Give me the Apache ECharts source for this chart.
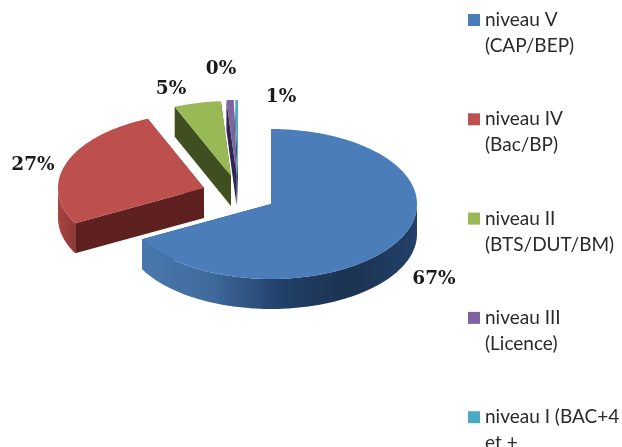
<!DOCTYPE html>
<html>
<head>
<meta charset="utf-8">
<style>
html, body { margin: 0; padding: 0; background: #fff; overflow: hidden; }
#chart { width: 622px; height: 447px; }
</style>
<script src="https://cdn.jsdelivr.net/npm/echarts@6/dist/echarts.min.js"></script>
</head>
<body>
<div id="chart"></div>
<script>
var categories = ['niveau V\n(CAP/BEP)', 'niveau IV\n(Bac/BP)', 'niveau II\n(BTS/DUT/BM)', 'niveau III\n(Licence)', 'niveau I (BAC+4\net +'];
var shares = [67.2, 26.5, 5.2, 0.8, 0.3];

var topColors = ['#4a7dba', '#bd4f4c', '#98b955', '#7f63a1', '#4aaac4'];
var edgeColors = ['#1f3a5c', '#5e2120', '#3f4f1f', '#2e2550', '#1f5a6c'];
var wallColors = [['#4a78ad', '#3f6a9c', '#22406a', '#1c3350', '#22406a'], ['#a84643', '#8e3836'], ['#3f4f1f', '#3f4f1f'], ['#2e2550', '#2e2550'], ['#1f5a6c', '#1f5a6c']];

// ellipse of the tilted pie
var rx = 146, ry = 75, depth = 30;
// where each slice's tip ends up (exploded)
var tips = [[271, 204], [204, 188], [231, 176], [236.5, 175], [238, 175]];
var labelPos = [[434, 279], [33, 165.5], [171, 89], [281, 97], [221, 69]];

var chart = echarts.init(document.getElementById('chart'));

var total = shares.reduce(function (a, b) { return a + b; }, 0);
var starts = [];
var sum = 0;
shares.forEach(function (v) {
    starts.push(sum / total * 360);
    sum += v;
});

function rimPoint(tip, deg, drop) {
    var r = deg * Math.PI / 180;
    return [tip[0] + rx * Math.sin(r), tip[1] - ry * Math.cos(r) + drop];
}

function radialFace(tip, deg, color) {
    var p = rimPoint(tip, deg, 0);
    return {
        type: 'polygon',
        shape: { points: [tip, p, [p[0], p[1] + depth], [tip[0], tip[1] + depth]] },
        style: { fill: color }
    };
}

function renderSlice(params, api) {
    var i = params.dataIndex;
    var a0 = starts[i];
    var a1 = a0 + api.value(0) / total * 360;
    var tip = tips[i];
    var children = [];

    children.push(radialFace(tip, a0, edgeColors[i]));
    children.push(radialFace(tip, a1, edgeColors[i]));

    // outer wall, only the front half of the rim shows
    var w0 = Math.max(a0, 90), w1 = Math.min(a1, 270);
    if (w1 > w0) {
        var upper = [], lower = [];
        for (var d = w0; d < w1; d += 1) {
            upper.push(rimPoint(tip, d, 0));
            lower.unshift(rimPoint(tip, d, depth));
        }
        upper.push(rimPoint(tip, w1, 0));
        lower.unshift(rimPoint(tip, w1, depth));
        var stops = wallColors[i].map(function (c, k, arr) {
            return { offset: k / (arr.length - 1), color: c };
        });
        children.push({
            type: 'polygon',
            shape: { points: upper.concat(lower) },
            style: { fill: { type: 'linear', x: 0, y: 0, x2: 1, y2: 0, colorStops: stops } }
        });
    }

    var top = [tip];
    for (var t = a0; t < a1; t += 1) {
        top.push(rimPoint(tip, t, 0));
    }
    top.push(rimPoint(tip, a1, 0));
    children.push({ type: 'polygon', shape: { points: top }, style: { fill: topColors[i] } });

    children.push({
        type: 'text',
        x: labelPos[i][0],
        y: labelPos[i][1],
        style: {
            text: Math.round(api.value(0)) + '%',
            fill: '#1a1a1a',
            font: 'bold 18.5px "DejaVu Serif"',
            align: 'center',
            verticalAlign: 'middle'
        }
    });
    return { type: 'group', children: children };
}

var legendItems = [];
categories.forEach(function (name, i) {
    var y = 14 + i * 99.3;
    legendItems.push({
        type: 'rect',
        shape: { x: 468, y: y, width: 12, height: 12 },
        style: { fill: topColors[i] }
    });
    legendItems.push({
        type: 'text',
        x: 485,
        y: y - 7,
        style: {
            text: name,
            fill: '#2a2a2a',
            font: '19px "Lato"',
            lineHeight: 26
        }
    });
});

chart.setOption({
    animation: false,
    backgroundColor: '#fff',
    graphic: legendItems,
    series: [{
        type: 'custom',
        coordinateSystem: 'none',
        renderItem: renderSlice,
        data: shares.map(function (v) { return [v]; })
    }]
});
</script>
</body>
</html>
